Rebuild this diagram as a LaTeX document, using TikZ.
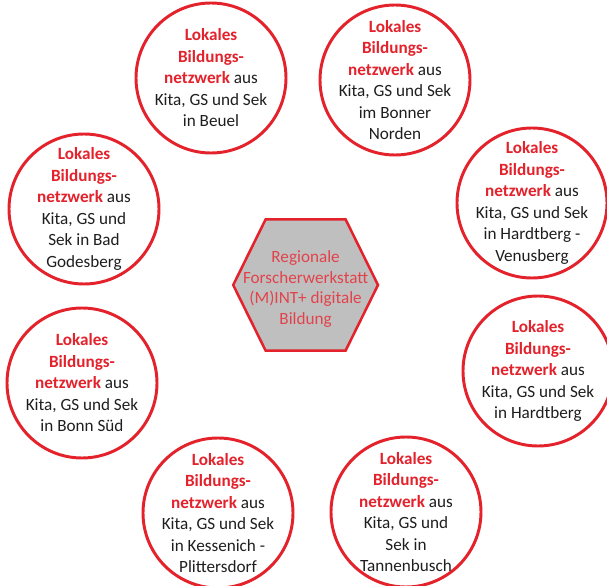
\documentclass[tikz,border=0pt]{standalone}
\usepackage{fontspec}
\setmainfont{Carlito}
\usetikzlibrary{positioning}

\definecolor{netzrot}{HTML}{E3222C}
\definecolor{hexgrau}{HTML}{BFBFBF}
\definecolor{hextext}{HTML}{E2434B}
\definecolor{schrift}{HTML}{1E1E1E}

\newcommand{\lokales}{\textcolor{netzrot}{\textbf{Lokales}}\\
  \textcolor{netzrot}{\textbf{Bildungs-}}\\
  \textcolor{netzrot}{\textbf{netzwerk}} aus}

\tikzset{
  netz/.style={circle, draw=netzrot, line width=2.1pt, fill=white,
    minimum size=3.75cm, inner sep=0pt},
  netztext/.style={align=center, text=schrift, inner sep=0pt,
    font=\fontsize{12.2}{15.3}\selectfont},
  hextxt/.style={align=center, text=hextext, inner sep=0pt,
    font=\fontsize{12.2}{14.8}\selectfont}
}

\begin{document}
\begin{tikzpicture}
    \useasboundingbox (0,0) rectangle (15.175,14.625);

    % =================================================================
    % MITTE: SECHSECK
    % =================================================================
    \coordinate (mitte) at (7.64,7.5);
    \def\HB{1.81}   % halbe Breite
    \def\HK{1.0}    % halbe Kante oben
    \def\HH{1.64}   % halbe Hoehe
    \draw[netzrot, line width=1.8pt, fill=hexgrau, line join=miter]
        (mitte) ++(-\HB,0) -- ++(\HB-\HK,\HH) -- ++(2*\HK,0)
        -- ++(\HB-\HK,-\HH) -- ++(\HK-\HB,-\HH) -- ++(-2*\HK,0) -- cycle;
    \node[hextxt] (forscher) at ([yshift=-0.1cm]mitte)
        {Regionale\\Forscherwerkstatt\\(M)INT+ digitale\\Bildung};

    % =================================================================
    % KREISE RINGSUM
    % =================================================================
    \node[netz] (beuel)   at (5.275,12.675) {};
    \node[netz] (norden)  at (9.875,12.625) {};
    \node[netz] (venus)   at (13.3,9.55)    {};
    \node[netz] (hardt)   at (13.45,5.35)   {};
    \node[netz] (tannen)  at (10.15,1.825)  {};
    \node[netz] (kessen)  at (5.45,1.8)     {};
    \node[netz] (sued)    at (2.05,5.05)    {};
    \node[netz] (godes)   at (2.1,9.4)      {};

    % Texte in den Kreisen
    \node[netztext] (beuel-t)  at (beuel)  {\lokales\\Kita, GS und Sek\\in Beuel};
    \node[netztext] (norden-t) at (norden) {\lokales\\Kita, GS und Sek\\im Bonner\\Norden};
    \node[netztext] (venus-t)  at (venus)  {\lokales\\Kita, GS und Sek\\in Hardtberg -\\Venusberg};
    \node[netztext] (hardt-t)  at (hardt)  {\lokales\\Kita, GS und Sek\\in Hardtberg};
    \node[netztext] (tannen-t) at (tannen) {\lokales\\Kita, GS und\\Sek in\\Tannenbusch};
    \node[netztext] (kessen-t) at (kessen) {\lokales\\Kita, GS und Sek\\in Kessenich -\\Plittersdorf};
    \node[netztext] (sued-t)   at (sued)   {\lokales\\Kita, GS und Sek\\in Bonn Süd};
    \node[netztext] (godes-t)  at (godes)  {\lokales\\Kita, GS und\\Sek in Bad\\Godesberg};

\end{tikzpicture}
\end{document}
